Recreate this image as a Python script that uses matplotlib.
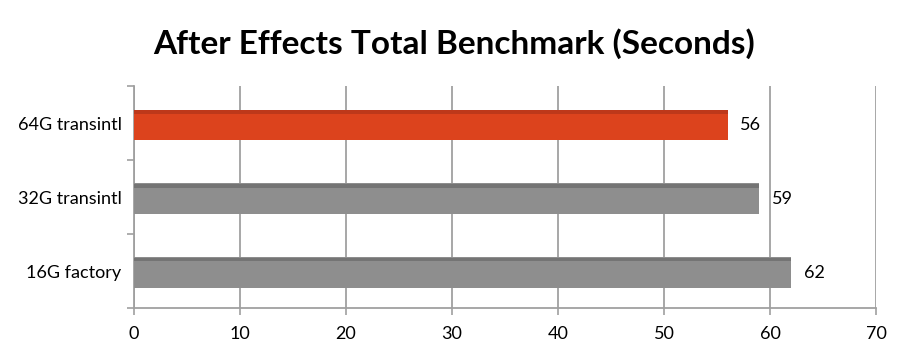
import matplotlib.pyplot as plt
import numpy as np

# data
categories = ['16G factory', '32G transintl', '64G transintl']
seconds = [62, 59, 56]
bar_colors = ['#8e8e8e', '#8e8e8e', '#dc431d']
edge_colors = ['#6a6a6a', '#6a6a6a', '#b0341a']

plt.rcParams['font.family'] = ['Lato', 'DejaVu Sans']

fig = plt.figure(figsize=(9.08, 3.56), dpi=100)
ax = fig.add_axes([0.1476, 0.1348, 0.8172, 0.623])

y = np.arange(len(categories))
ax.barh(y - 0.02, seconds, height=0.41, color=bar_colors, zorder=3)
# darker strip along top of each bar for the shaded look
ax.barh(y + 0.155, seconds, height=0.05, color=edge_colors, alpha=0.7, zorder=4)

for yi, v in zip(y, seconds):
    ax.text(v + 1.2, yi - 0.02, str(v), va='center', ha='left', fontsize=13)

ax.set_xlim(0, 70)
ax.set_ylim(-0.5, 2.5)
ax.set_xticks(range(0, 71, 10))
ax.set_yticks(y)
ax.set_yticklabels(categories, fontsize=13)
ax.set_yticks([-0.5, 0.5, 1.5, 2.5], minor=True)
ax.tick_params(axis='y', which='major', length=0, pad=9)
ax.tick_params(axis='y', which='minor', length=5, color='#a0a0a0', width=1.2)
ax.tick_params(axis='x', length=5, color='#a0a0a0', width=1.2, labelsize=13, pad=8)

ax.grid(axis='x', color='#a0a0a0', linewidth=1.3, zorder=0)
for s in ['top', 'right']:
    ax.spines[s].set_visible(False)
for s in ['left', 'bottom']:
    ax.spines[s].set_color('#a0a0a0')
    ax.spines[s].set_linewidth(1.3)

fig.suptitle('After Effects Total Benchmark (Seconds)', fontsize=24, fontweight='bold', y=0.92)

fig.savefig('out.png', dpi=100)
